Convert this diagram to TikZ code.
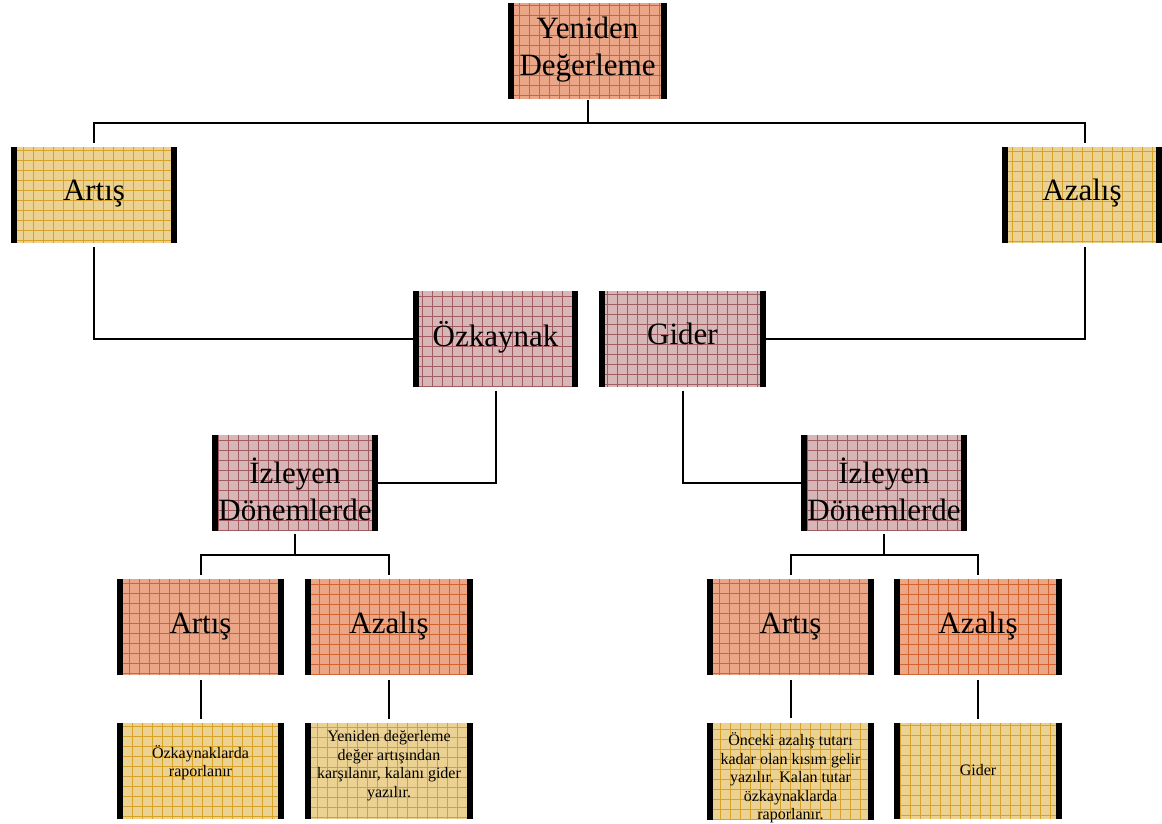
\documentclass[tikz,border=0pt]{standalone}
\usepackage{fontspec}
\setmainfont{Liberation Serif}
\definecolor{orfill}{RGB}{234,166,134}
\definecolor{orgrid}{RGB}{212,100,45}
\definecolor{ylfill}{RGB}{236,210,146}
\definecolor{ylgrid}{RGB}{214,162,40}
\definecolor{mvfill}{RGB}{214,182,182}
\definecolor{mvgrid}{RGB}{160,92,96}
\begin{document}
\begin{tikzpicture}[x=1pt,y=-1pt,
  gridcol/.store in=\gridcol, gridcol=black,
  boxbase/.style={rectangle, inner sep=0pt, minimum width=166pt, minimum height=96pt,
    align=center, text=black,
    path picture={
      \draw[\gridcol, line width=0.5pt, step=10pt]
        (path picture bounding box.south west) grid (path picture bounding box.north east);
      \fill[black] (path picture bounding box.south west) rectangle
        ([xshift=6pt]path picture bounding box.north west);
      \fill[black] ([xshift=-6pt]path picture bounding box.south east) rectangle
        (path picture bounding box.north east);
    }},
  orbox/.style={boxbase, fill=orfill, gridcol=orgrid},
  ylbox/.style={boxbase, fill=ylfill, gridcol=ylgrid},
  mvbox/.style={boxbase, fill=mvfill, gridcol=mvgrid},
  big/.style={font=\fontsize{31}{37}\selectfont, text depth=1.0em},
  small/.style={font=\fontsize{16}{18.5}\selectfont},
  conn/.style={draw=black, line width=2pt}
]
\useasboundingbox (0,0) rectangle (1162,823);

% level 0
\node[orbox, big, text depth=1.0em, minimum width=159pt] (top) at (587.5,51) {Yeniden\\Değerleme};
% level 1
\node[ylbox, big] (A1) at (94,195) {Artış};
\node[ylbox, big, minimum width=160pt] (Z1) at (1082,195) {Azalış};
% level 2
\node[mvbox, big, minimum width=165pt] (oz) at (495.5,338.5) {Özkaynak};
\node[mvbox, big, minimum width=167pt] (gi) at (682.5,338.5) {Gider};
% level 3
\node[mvbox, big, text depth=0pt] (izL) at (295,483) {\rule{0pt}{1.2em}İzleyen\\Dönemlerde};
\node[mvbox, big, text depth=0pt] (izR) at (884,483) {\rule{0pt}{1.2em}İzleyen\\Dönemlerde};
% level 4
\node[orbox, big, text depth=0.8em, minimum width=167pt] (aL) at (200.5,627) {Artış};
\node[orbox, big, text depth=0.8em, minimum width=168pt] (zL) at (389,627) {Azalış};
\node[orbox, big, text depth=0.8em, minimum width=167pt] (aR) at (790.5,627) {Artış};
\node[orbox, big, text depth=0.8em, minimum width=168pt] (zR) at (978,627) {Azalış};
% level 5
\node[ylbox, small, minimum width=167pt, text depth=20pt] (yL1) at (200.5,771) {Özkaynaklarda\\raporlanır};
\node[ylbox, small, minimum width=168pt, text depth=14pt] (yL2) at (389,771) {Yeniden değerleme\\değer artışından\\karşılanır, kalanı gider\\yazılır.};
\node[ylbox, small, minimum width=167pt, text depth=0pt] (yR1) at (790.5,771) {\rule{0pt}{23pt}Önceki azalış tutarı\\kadar olan kısım gelir\\yazılır. Kalan tutar\\özkaynaklarda\\raporlanır.};
\node[ylbox, small, minimum width=168pt, text depth=2pt] (yR2) at (978,771) {Gider};

% connectors
\coordinate (j0) at (587.5,123);
\coordinate (jL) at (295,555);
\coordinate (jR) at (884,555);
\draw[conn, shorten <=1pt] (top.south) -- (j0);
\draw[conn, shorten <=4pt, shorten >=4pt] (A1.north) |- (j0) -| ([xshift=3pt]Z1.north);
\draw[conn, shorten <=4pt] (A1.south) |- (oz.west);
\draw[conn, shorten <=4pt] ([xshift=3pt]Z1.south) |- (gi.east);
\draw[conn, shorten <=4pt] (oz.south) |- (izL.east);
\draw[conn, shorten <=4pt] (gi.south) |- (izR.west);
\draw[conn, shorten <=3pt] (izL.south) -- (jL);
\draw[conn, shorten <=4pt, shorten >=4pt] (aL.north) |- (jL) -| (zL.north);
\draw[conn, shorten <=3pt] (izR.south) -- (jR);
\draw[conn, shorten <=4pt, shorten >=4pt] (aR.north) |- (jR) -| (zR.north);
\draw[conn, shorten <=5pt, shorten >=4pt] (aL.south) -- (yL1.north);
\draw[conn, shorten <=5pt, shorten >=4pt] (zL.south) -- (yL2.north);
\draw[conn, shorten <=5pt, shorten >=4pt] (aR.south) -- (yR1.north);
\draw[conn, shorten <=5pt, shorten >=4pt] (zR.south) -- (yR2.north);
\end{tikzpicture}
\end{document}
